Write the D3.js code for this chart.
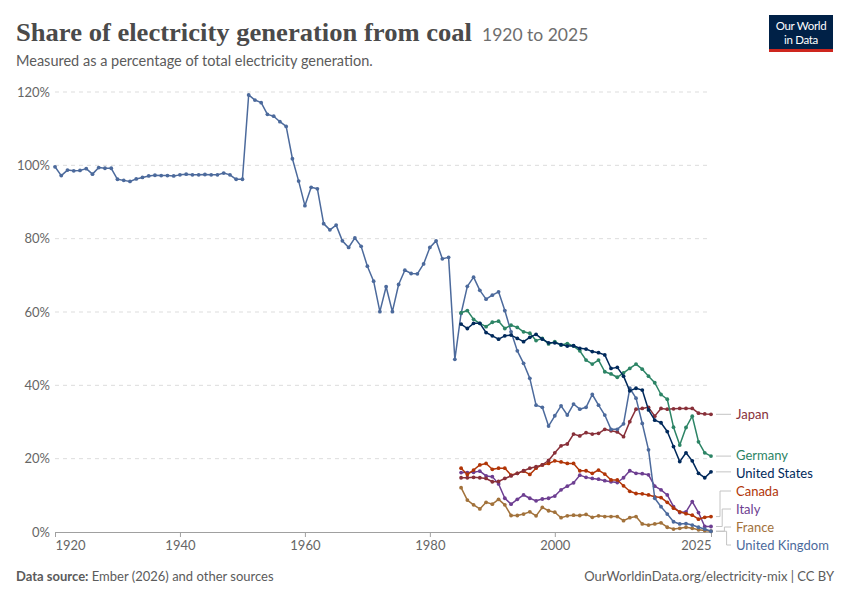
<!DOCTYPE html>
<html><head><meta charset="utf-8">
<script src="https://cdn.jsdelivr.net/npm/d3@7"></script>
<style>
body{margin:0;background:#fff;}
svg{font-family:Lato,"Noto Sans",sans-serif;}
</style></head>
<body><svg id="c" width="850" height="600"></svg>
<script>
// ---- data ----
const ukYears = d3.range(1920, 2026);
const ukValues = [99.6,97.2,98.7,98.5,98.6,99.1,97.6,99.4,99.2,99.2,
96.2,95.9,95.6,96.3,96.7,97.1,97.3,97.2,97.2,97.1,
97.4,97.6,97.4,97.4,97.5,97.4,97.4,97.9,97.4,96.2,
96.2,119.2,117.8,117.1,113.9,113.4,111.9,110.6,101.8,95.7,
89.0,94.0,93.6,84.1,82.4,83.7,79.4,77.6,80.2,77.9,
72.5,68.4,60.1,66.9,60.1,67.5,71.4,70.5,70.4,73.1,
77.6,79.4,74.5,74.9,47.1,59.6,67.0,69.5,65.9,63.5,
64.6,65.5,60.4,54.6,49.4,46.0,41.9,34.6,34.0,28.9,
31.7,34.4,31.9,34.9,33.5,34.0,37.5,34.6,31.9,28.0,
28.0,29.5,39.2,36.5,29.6,22.4,9.2,6.9,4.9,2.8,
2.2,2.3,1.9,1.3,0.8,0.2];
const otherYears = d3.range(1985, 2026);
const germanyValues = [59.8,60.4,58.0,56.9,56.0,57.2,57.5,55.5,56.4,55.8,
54.6,54.2,52.2,52.8,51.3,51.9,51.0,51.4,50.7,49.4,
46.9,45.8,46.9,43.7,43.1,42.2,43.4,44.6,45.8,44.4,
42.5,40.7,37.5,36.2,28.6,23.7,28.5,31.6,24.6,21.6,20.7];
const usValues = [56.7,55.5,56.9,56.9,54.4,53.5,52.6,53.5,53.7,52.8,
51.9,53.1,53.9,52.6,51.6,51.6,51.1,50.7,50.8,50.1,
49.9,49.2,48.9,48.3,44.6,44.9,42.5,38.5,39.2,38.7,
33.3,30.5,29.8,27.4,23.3,19.2,21.6,19.4,16.0,14.8,16.4];
const japanValues = [14.8,14.8,14.9,14.8,14.6,13.7,13.8,14.6,15.3,16.0,
16.7,17.4,17.8,18.3,19.5,21.6,23.5,24.0,26.7,26.2,
27.1,26.7,26.9,28.0,27.6,27.3,26.0,30.1,33.5,33.7,
34.0,31.6,33.7,33.5,33.6,33.7,33.7,33.7,32.4,32.2,32.1];
const canadaValues = [17.4,15.7,16.9,18.3,18.7,17.1,17.4,17.4,15.5,16.0,
16.6,15.7,17.4,18.3,18.7,19.4,19.1,18.7,18.7,16.7,
16.7,16.0,16.9,15.8,14.2,14.2,12.6,11.1,10.5,10.4,
10.1,9.6,9.4,8.1,6.5,5.5,5.0,4.6,3.5,4.0,4.2];
const italyValues = [16.2,16.2,16.3,16.6,15.3,15.1,13.1,9.2,7.6,8.9,
10.1,9.2,8.5,9.0,9.2,9.8,11.5,12.5,13.4,15.5,
14.9,14.6,14.4,14.0,13.7,13.5,14.8,16.7,16.0,15.9,
15.6,12.5,11.5,10.1,6.9,5.3,5.5,8.3,5.3,1.5,1.5];
const franceValues = [12.1,8.7,7.4,6.3,8.1,7.6,8.9,7.4,4.5,4.5,
4.9,5.5,4.4,6.7,5.8,5.4,3.9,4.4,4.6,4.5,
4.8,4.0,4.4,4.2,4.2,4.2,3.1,3.9,4.2,2.2,
1.9,2.2,2.5,1.3,0.8,1.0,1.3,1.0,0.6,0.4,0.2];
const countryNames = ["Japan","Germany","United States","Canada","Italy","France","United Kingdom"];
const yTicks = [0,20,40,60,80,100,120];
const xTicks = [1920,1940,1960,1980,2000,2025];

const series = [
  {name:"United Kingdom", years:ukYears, values:ukValues, color:"#4C6A9C"},
  {name:"Germany", years:otherYears, values:germanyValues, color:"#2C8465"},
  {name:"United States", years:otherYears, values:usValues, color:"#00295B"},
  {name:"Japan", years:otherYears, values:japanValues, color:"#883039"},
  {name:"Canada", years:otherYears, values:canadaValues, color:"#B13507"},
  {name:"Italy", years:otherYears, values:italyValues, color:"#6D3E91"},
  {name:"France", years:otherYears, values:franceValues, color:"#A2723B"}
];
const drawOrder = ["France","Italy","Canada","Japan","United Kingdom","Germany","United States"];

const svg = d3.select("#c");
const x = d3.scaleLinear().domain([1920,2025]).range([55,711]);
const y = d3.scaleLinear().domain([0,120]).range([532,92]);

// title
svg.append("text").attr("x",16).attr("y",41).attr("font-family","'Liberation Serif','DejaVu Serif',serif")
  .attr("font-size",25).attr("font-weight","bold").attr("fill","#4a4a4a").attr("textLength",456).attr("lengthAdjust","spacingAndGlyphs")
  .text("Share of electricity generation from coal");
svg.append("text").attr("x",482).attr("y",41).attr("font-size",17.5).attr("fill","#6e6e6e").text("1920 to 2025");
svg.append("text").attr("x",16).attr("y",66).attr("font-size",14.5).attr("fill","#5b5b5b")
  .text("Measured as a percentage of total electricity generation.");

// logo
const logo = svg.append("g");
logo.append("rect").attr("x",769).attr("y",15).attr("width",64).attr("height",37).attr("fill","#002147");
logo.append("rect").attr("x",769).attr("y",49).attr("width",64).attr("height",3).attr("fill","#CE261E");
logo.append("text").attr("x",801).attr("y",30).attr("text-anchor","middle").attr("font-size",11.5).attr("fill","#fff").attr("letter-spacing",-0.3).text("Our World");
logo.append("text").attr("x",801).attr("y",44).attr("text-anchor","middle").attr("font-size",11.5).attr("fill","#fff").attr("letter-spacing",-0.3).text("in Data");

// grid + y labels
const grid = svg.append("g");
yTicks.filter(t=>t>0).forEach(t=>{
  grid.append("line").attr("x1",55).attr("x2",711).attr("y1",y(t)).attr("y2",y(t))
    .attr("stroke","#dddddd").attr("stroke-dasharray","4,4");
});
yTicks.forEach(t=>{
  grid.append("text").attr("x",50).attr("y",y(t)).attr("dy","0.35em").attr("text-anchor","end")
    .attr("font-size",13).attr("fill","#666").text(t+"%");
});

// x axis
const xa = svg.append("g").attr("transform","translate(0,532)")
  .call(d3.axisBottom(x).tickValues(xTicks).tickFormat(d3.format("d")).tickSize(5).tickPadding(4));
xa.select(".domain").attr("stroke","#a0a0a0");
xa.selectAll(".tick line").attr("stroke","#a0a0a0");
xa.selectAll(".tick text").attr("font-size",13).attr("fill","#666").attr("font-family","Lato,sans-serif")
  .attr("text-anchor",d=> d===1920 ? "start" : d===2025 ? "end" : "middle");

// lines
const line = d3.line().x(d=>x(d[0])).y(d=>y(d[1]));
drawOrder.forEach(n=>{
  const s = series.find(d=>d.name===n);
  const pts = s.years.map((yr,i)=>[yr,s.values[i]]);
  svg.append("path").datum(pts).attr("d",line).attr("fill","none").attr("stroke",s.color).attr("stroke-width",1.5).attr("stroke-linejoin","round");
  svg.append("g").selectAll("circle").data(pts).join("circle")
    .attr("cx",d=>x(d[0])).attr("cy",d=>y(d[1])).attr("r",1.9).attr("fill",s.color);
});

// labels
const labels = countryNames.map(n=>{
  const s = series.find(d=>d.name===n);
  const v = s.values[s.values.length-1];
  return {name:n, color:s.color, target:y(v), pos:y(v)};
}).sort((a,b)=>a.target-b.target);
const gap = 18, maxBottom = 545;
for(let i=1;i<labels.length;i++) labels[i].pos = Math.max(labels[i].pos, labels[i-1].pos+gap);
labels[labels.length-1].pos = Math.min(labels[labels.length-1].pos, maxBottom);
for(let i=labels.length-2;i>=0;i--) labels[i].pos = Math.min(labels[i].pos, labels[i+1].pos-gap);

const lx0 = 716, lx1 = 731, tx = 736;
let k = 0;
labels.forEach(l=>{
  const moved = Math.abs(l.pos-l.target) > 1.5;
  let pathD;
  if(!moved){
    pathD = `M${lx0},${l.target}H${lx1}`;
  } else {
    const ex = 720 + k*2.2; k++;
    pathD = `M${lx0},${l.target}H${ex}V${l.pos}H${lx1}`;
  }
  svg.append("path").attr("d",pathD).attr("fill","none").attr("stroke","#c4c4c4").attr("stroke-width",1);
  svg.append("text").attr("x",tx).attr("y",l.pos).attr("dy","0.35em").attr("font-size",13)
    .attr("fill",l.color).text(l.name);
});

// footer
const f = svg.append("text").attr("x",16).attr("y",581).attr("font-size",13).attr("fill","#5b5b5b");
f.append("tspan").attr("font-weight","bold").text("Data source:");
f.append("tspan").text(" Ember (2026) and other sources");
svg.append("text").attr("x",834).attr("y",581).attr("text-anchor","end").attr("font-size",13).attr("fill","#5b5b5b")
  .text("OurWorldinData.org/electricity-mix | CC BY");
</script></body></html>
